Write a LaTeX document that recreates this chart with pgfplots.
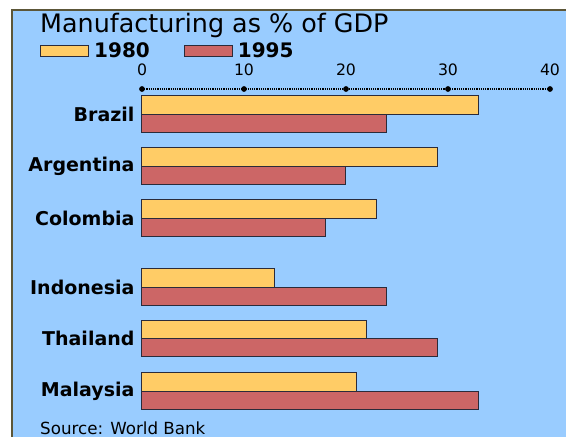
\documentclass[border=0pt]{standalone}
\usepackage{fontspec}
\setmainfont{DejaVu Sans}
\usepackage{pgfplots}
\pgfplotsset{compat=1.18}
\definecolor{bgblue}{HTML}{99CCFF}
\definecolor{baryellow}{HTML}{FFCC66}
\definecolor{barred}{HTML}{CC6666}
\definecolor{edge}{HTML}{2B2B3A}
\definecolor{frame}{HTML}{5C5638}
\pgfplotstableread{
pos v1980 v1995
-114 33 24
-166 29 20
-218 23 18
-287 13 24
-338.5 22 29
-391 21 33
}\datatable
\begin{document}
\begin{tikzpicture}
\useasboundingbox (0pt,0pt) rectangle (566pt,-437pt);
\fill[bgblue] (12pt,-10pt) rectangle (566pt,-437pt);
\draw[frame, line width=2pt] (12pt,-437pt) -- (12pt,-10pt) -- (566pt,-10pt);
\node[anchor=base west, inner sep=0pt, font=\fontsize{25.4}{28}\selectfont] at (40pt,-32pt) {Manufacturing as \% of GDP};
\node[anchor=base west, inner sep=0pt, font=\fontsize{16.7}{20}\selectfont] at (40pt,-434pt) {Source: World Bank};
\begin{axis}[
  at={(142pt,-437pt)}, anchor=south west,
  scale only axis, width=408pt, height=348pt,
  xmin=0, xmax=40, ymin=-437, ymax=-89,
  axis x line*=top, axis y line*=left,
  x axis line style={densely dotted, line width=1.2pt, black, -},
  y axis line style={draw=none},
  xtick={0,10,20,30,40},
  xtick style={draw=none},
  ytick style={draw=none},
  ytick={-114,-166,-218,-287,-338.5,-391},
  yticklabels={Brazil,Argentina,Colombia,Indonesia,Thailand,Malaysia},
  yticklabel style={font=\bfseries\fontsize{19}{22}\selectfont, xshift=-4pt},
  xticklabel style={font=\fontsize{15.7}{19}\selectfont, yshift=10pt},
  /pgf/number format/assume math mode=true,
  clip=false,
  legend columns=2,
  legend style={at={(-0.2574,1.11)}, anchor=west, draw=none, fill=none,
    font=\bfseries\fontsize{20}{24}\selectfont,
    nodes={inner sep=3pt},
    /tikz/every even column/.append style={column sep=31pt}},
  legend image code/.code={\draw[#1, line width=1pt] (0pt,-5.5pt) rectangle (48pt,5.5pt); \path (50pt,0pt);},
]
\addplot[xbar, bar width=18.3, bar shift=9.15pt, draw=edge, line width=1pt, fill=baryellow] table[x=v1980, y=pos] {\datatable};
\addlegendentry{1980}
\addplot[xbar, bar width=18.3, bar shift=-9.15pt, draw=edge, line width=1pt, fill=barred] table[x=v1995, y=pos] {\datatable};
\addlegendentry{1995}
\addplot[only marks, mark=*, mark size=2.6pt, black, forget plot] coordinates {(0,-89) (10,-89) (20,-89) (30,-89) (40,-89)};
\end{axis}
\end{tikzpicture}
\end{document}
